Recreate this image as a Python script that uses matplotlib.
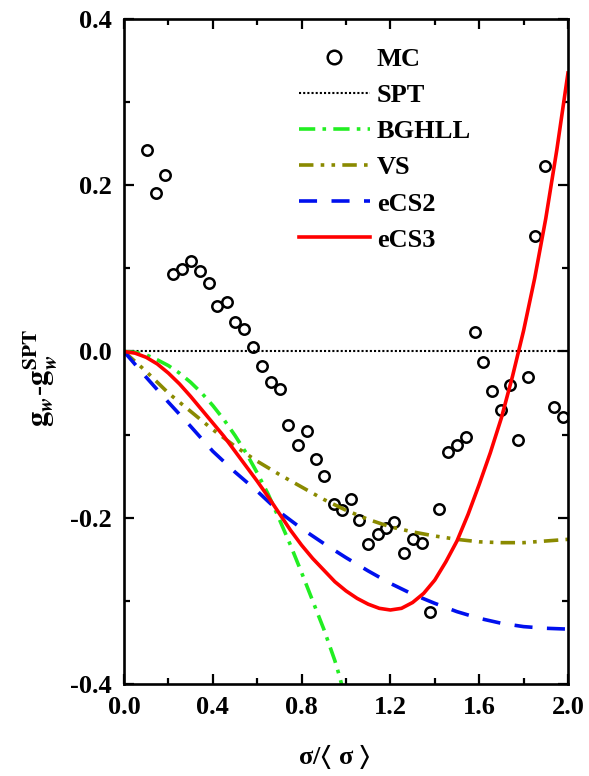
import numpy as np
import matplotlib
matplotlib.use('Agg')
import matplotlib.pyplot as plt
from matplotlib.ticker import MultipleLocator

plt.rcParams['font.family'] = ['Liberation Serif', 'Noto Sans CJK SC', 'DejaVu Sans']
plt.rcParams['font.weight'] = 'bold'
plt.rcParams['mathtext.fontset'] = 'stix'
plt.rcParams['axes.unicode_minus'] = False

# MC simulation points
mc_x = [0.104, 0.144, 0.185, 0.219, 0.261, 0.303, 0.342, 0.381, 0.420, 0.462,
        0.501, 0.541, 0.583, 0.622, 0.661, 0.703, 0.740, 0.785, 0.823, 0.863,
        0.902, 0.946, 0.983, 1.023, 1.060, 1.101, 1.143, 1.181, 1.218, 1.262,
        1.301, 1.342, 1.380, 1.419, 1.458, 1.502, 1.541, 1.581, 1.619, 1.656,
        1.697, 1.739, 1.776, 1.818, 1.851, 1.896, 1.937, 1.976]
mc_y = [0.243, 0.191, 0.212, 0.093, 0.099, 0.109, 0.097, 0.082, 0.055, 0.059,
        0.036, 0.027, 0.006, -0.018, -0.037, -0.045, -0.089, -0.113, -0.096, -0.129,
        -0.150, -0.184, -0.191, -0.177, -0.203, -0.232, -0.220, -0.212, -0.205, -0.243,
        -0.226, -0.231, -0.313, -0.190, -0.121, -0.113, -0.103, 0.023, -0.013, -0.048,
        -0.070, -0.040, -0.107, -0.031, 0.139, 0.223, -0.067, -0.079]

x_grid = [0.0, 0.1, 0.2, 0.3, 0.4, 0.5, 0.6, 0.7, 0.8, 0.9, 1.0,
          1.1, 1.2, 1.3, 1.4, 1.5, 1.6, 1.7, 1.8, 1.9, 2.0]

spt_x = [0.0, 2.0]
spt_y = [0.0, 0.0]

bghll_x = [0.0, 0.05, 0.1, 0.15, 0.2, 0.25, 0.3, 0.35, 0.4, 0.45, 0.5, 0.55,
           0.6, 0.65, 0.7, 0.75, 0.8, 0.85, 0.9, 0.95, 0.97, 0.985]
bghll_y = [0.0, -0.001, -0.004, -0.010, -0.017, -0.026, -0.037, -0.050, -0.065, -0.082,
           -0.101, -0.122, -0.146, -0.172, -0.202, -0.233, -0.266, -0.300, -0.334, -0.372,
           -0.390, -0.405]

vs_y = [0.0, -0.024, -0.050, -0.072, -0.094, -0.114, -0.132, -0.148, -0.163, -0.178, -0.191,
        -0.202, -0.211, -0.217, -0.222, -0.226, -0.229, -0.230, -0.230, -0.228, -0.226]

ecs2_y = [0.0, -0.031, -0.061, -0.090, -0.120, -0.145, -0.168, -0.193, -0.213, -0.231, -0.248,
          -0.264, -0.279, -0.292, -0.303, -0.313, -0.321, -0.327, -0.331, -0.333, -0.334]

ecs3_x = [0.0, 0.05, 0.1, 0.15, 0.2, 0.25, 0.3, 0.35, 0.4, 0.45, 0.5, 0.55, 0.6, 0.65,
          0.7, 0.75, 0.8, 0.85, 0.9, 0.95, 1.0, 1.05, 1.1, 1.15, 1.2, 1.25, 1.3, 1.35,
          1.4, 1.45, 1.5, 1.55, 1.6, 1.65, 1.7, 1.75, 1.8, 1.85, 1.9, 1.95, 2.0]
ecs3_y = [0.0, -0.002, -0.007, -0.015, -0.026, -0.039, -0.054, -0.070, -0.086, -0.102,
          -0.120, -0.138, -0.156, -0.175, -0.195, -0.215, -0.233, -0.249, -0.263, -0.277,
          -0.288, -0.297, -0.304, -0.309, -0.311, -0.309, -0.302, -0.291, -0.275, -0.253,
          -0.228, -0.196, -0.160, -0.122, -0.080, -0.030, 0.025, 0.088, 0.160, 0.243, 0.335]

fig = plt.figure(figsize=(5.89, 7.76), dpi=100)
ax = fig.add_axes([0.2105, 0.1186, 0.7538, 0.8569])

ax.plot(mc_x, mc_y, 'o', ms=7.5, mfc='none', mec='black', mew=1.8, label='MC')
ax.plot(spt_x, spt_y, color='black', lw=1.5, ls=(0, (1, 1)), label='SPT')
ax.plot(bghll_x, bghll_y, color='#22ee22', lw=2.6, dashes=(4.5, 2, 1, 2), label='BGHLL')
ax.plot(x_grid, vs_y, color='#8a8a00', lw=2.6, dashes=(4, 2, 1, 2, 1, 2), label='VS')
ax.plot(x_grid, ecs2_y, color='#0010ee', lw=2.6, dashes=(5, 4), label='eCS2')
ax.plot(ecs3_x, ecs3_y, color='#ff0000', lw=2.6, label='eCS3')

ax.set_xlim(0, 2.0)
ax.set_ylim(-0.4, 0.4)
ax.xaxis.set_major_locator(MultipleLocator(0.4))
ax.xaxis.set_minor_locator(MultipleLocator(0.2))
ax.yaxis.set_major_locator(MultipleLocator(0.2))
ax.yaxis.set_minor_locator(MultipleLocator(0.1))
ax.tick_params(which='both', direction='in', top=True, right=True, width=1.6)
ax.tick_params(which='major', length=7, labelsize=19, pad=9)
ax.tick_params(which='minor', length=4)
for s in ax.spines.values():
    s.set_linewidth(1.9)
for lab in ax.get_xticklabels() + ax.get_yticklabels():
    lab.set_fontweight('bold')

ax.set_xlabel(r'σ/$\langle$ σ $\rangle$', fontsize=19, fontweight='bold')
ax.xaxis.set_label_coords(0.473, -0.088)
ax.set_ylabel(r'$\mathbf{g}_{\mathit{w}}$-$\mathbf{g}_{\mathit{w}}^{\mathbf{SPT}}$',
              fontsize=22)
ax.yaxis.set_label_coords(-0.145, 0.46)

leg = ax.legend(loc='upper left', bbox_to_anchor=(0.37, 0.973), frameon=False,
                fontsize=19, handlelength=2.7, handletextpad=0.25, labelspacing=0.48,
                borderaxespad=0, markerscale=1.3)
for t in leg.get_texts():
    t.set_fontweight('bold')

fig.savefig('out.png', dpi=100)
